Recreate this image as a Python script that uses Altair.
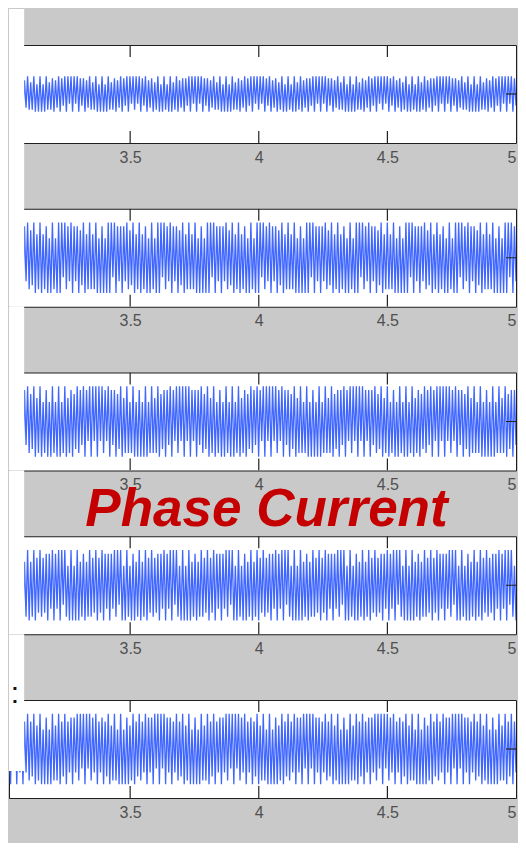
import altair as alt
import pandas as pd
import numpy as np

# ---------------- data ----------------
x_start, x_end = 3.029, 5.0          # visible time window
tick_values = [3.5, 4.0, 4.5, 5.0]   # x tick labels
inner_ticks = [3.5, 4.0, 4.5]        # tick marks drawn inside the box
strip_edge = 3.088                   # edge of the window strip covering the left of each plot
title_text = ["Phase Current"]
title_x = [4.03]
colon_text = [":"]
colon_x = [3.068]

# y half-range of each panel, in the same units as the sample levels below
panel_range = [25.0, 12.5, 12.5, 12.5, 12.5]

# sampled current (levels), one list per panel
phase_1 = [
    9,-9,9,-5, 9,-9,8,-6, 8,-9,7,-7, 9,-8,6,-8, 9,-9,5,-9, 9,-9,5,-9, 9,-8,6,-8, 8,-9,7,-7, 9,-9,8,-6, 9,-9,9,-5,
    9,-9,9,-5, 9,-9,8,-6, 8,-9,7,-7, 9,-8,6,-8, 9,-9,5,-9, 9,-9,5,-9, 9,-8,6,-8, 8,-9,7,-7, 9,-9,8,-6, 9,-9,9,-5,
    9,-8,9,-5, 9,-9,8,-6, 9,-9,7,-7, 8,-9,6,-8, 9,-9,5,-9, 9,-8,5,-9, 9,-9,6,-8, 9,-9,7,-7, 8,-9,8,-6, 9,-9,9,-5,
    9,-9,9,-5, 9,-9,8,-6, 8,-9,7,-7, 9,-8,6,-8, 9,-9,5,-9, 9,-9,5,-9, 9,-8,6,-8, 8,-9,7,-7, 9,-9,8,-6, 9,-9,9,-5,
    9,-8,9,-5, 9,-9,8,-6, 9,-9,7,-7, 8,-9,6,-8, 9,-9,5,-9, 9,-8,5,-9, 9,-9,6,-8, 9,-9,7,-7, 8,-9,8,-6, 9,-9,9,-5,
    9,-9,9,-5, 9,-9,8,-6, 8,-9,7,-7, 9,-8,6,-8, 9,-9,5,-9, 9,-9,5,-9, 9,-8,6,-8, 8,-9,7,-7, 9,-9,8,-6, 9,-9,9,-5,
    9,-8,9,-5, 9,-9,8,-6, 9,-9,7,-7, 8,-9,6,-8, 9,-9,5,-9, 9,-8,5,-9, 9,-9,6,-8, 9,-9,7,-7, 8,-9,8,-6, 9,-9,9,-5,
    9,-9,9,-5, 9,-9,8,-6, 8,-9,7,-7, 9,-8,6,-8, 9,-9,5,-9, 9,-9,5,-9, 9,-8,6,-8, 8,-9,7,-7, 9,-9,8,-6, 9,-9,9,-5,
    9,-9,9,-5, 9,-9,8,-6,
]

phase_2 = [
    9,-9,9,-5, 9,-9,8,-6, 8,-9,8,-6, 9,-8,7,-7, 9,-9,6,-8, 9,-9,6,-8, 8,-9,5,-9, 9,-8,5,-9,
    9,-9,9,-5, 9,-8,8,-6, 9,-9,8,-6, 8,-9,7,-7, 9,-9,6,-8, 9,-8,6,-8, 9,-9,5,-9, 8,-9,5,-9,
    9,-9,9,-5, 9,-9,8,-6, 8,-9,8,-6, 9,-8,7,-7, 9,-9,6,-8, 9,-9,6,-8, 8,-9,5,-9, 9,-8,5,-9,
    9,-9,9,-5, 9,-8,8,-6, 9,-9,8,-6, 8,-9,7,-7, 9,-9,6,-8, 9,-8,6,-8, 9,-9,5,-9, 8,-9,5,-9,
    9,-9,9,-5, 9,-9,8,-6, 8,-9,8,-6, 9,-8,7,-7, 9,-9,6,-8, 9,-9,6,-8, 8,-9,5,-9, 9,-8,5,-9,
    9,-9,9,-5, 9,-8,8,-6, 9,-9,8,-6, 8,-9,7,-7, 9,-9,6,-8, 9,-8,6,-8, 9,-9,5,-9, 8,-9,5,-9,
    9,-9,9,-5, 9,-9,8,-6, 8,-9,8,-6, 9,-8,7,-7, 9,-9,6,-8, 9,-9,6,-8, 8,-9,5,-9, 9,-8,5,-9,
    9,-9,9,-5, 9,-8,8,-6, 9,-9,8,-6, 8,-9,7,-7, 9,-9,6,-8, 9,-8,6,-8, 9,-9,5,-9, 8,-9,5,-9,
    9,-9,9,-5, 9,-9,8,-6, 8,-9,8,-6, 9,-8,7,-7, 9,-9,6,-8, 9,-9,6,-8, 8,-9,5,-9, 9,-8,5,-9,
    9,-9,9,-5, 9,-8,8,-6, 9,-9,8,-6, 8,-9,7,-7, 9,-9,6,-8, 9,-8,6,-8, 9,-9,5,-9, 8,-9,5,-9,
    9,-9,9,-5, 9,-9,8,-6,
]

phase_3 = [
    9,-9,9,-5, 9,-9,8,-5, 8,-9,8,-6, 9,-8,7,-7, 9,-9,6,-8, 9,-9,5,-8, 8,-9,5,-9,
    9,-8,5,-9, 9,-9,5,-8, 9,-9,6,-8, 8,-9,7,-7, 9,-8,8,-6, 9,-9,8,-5, 9,-9,9,-5,
    9,-9,9,-5, 9,-8,8,-5, 9,-9,8,-6, 8,-9,7,-7, 9,-9,6,-8, 9,-8,5,-8, 9,-9,5,-9,
    8,-9,5,-9, 9,-9,5,-8, 9,-8,6,-8, 9,-9,7,-7, 8,-9,8,-6, 9,-9,8,-5, 9,-8,9,-5,
    9,-9,9,-5, 9,-9,8,-5, 8,-9,8,-6, 9,-8,7,-7, 9,-9,6,-8, 9,-9,5,-8, 8,-9,5,-9,
    9,-8,5,-9, 9,-9,5,-8, 9,-9,6,-8, 8,-9,7,-7, 9,-8,8,-6, 9,-9,8,-5, 9,-9,9,-5,
    9,-9,9,-5, 9,-8,8,-5, 9,-9,8,-6, 8,-9,7,-7, 9,-9,6,-8, 9,-8,5,-8, 9,-9,5,-9,
    8,-9,5,-9, 9,-9,5,-8, 9,-8,6,-8, 9,-9,7,-7, 8,-9,8,-6, 9,-9,8,-5, 9,-8,9,-5,
    9,-9,9,-5, 9,-9,8,-5, 8,-9,8,-6, 9,-8,7,-7, 9,-9,6,-8, 9,-9,5,-8, 8,-9,5,-9,
    9,-8,5,-9, 9,-9,5,-8, 9,-9,6,-8, 8,-9,7,-7, 9,-8,8,-6, 9,-9,8,-5, 9,-9,9,-5,
    9,-9,9,-5, 9,-8,8,-5, 9,-9,8,-6, 8,-9,7,-7, 9,-9,6,-8, 9,-8,5,-8, 9,-9,5,-9,
    8,-9,5,-9, 9,-9,5,-8, 9,-8,6,-8, 9,-9,7,-7, 8,-9,8,-6,
]

phase_4 = [
    9,-9,5,-9, 9,-8,5,-9, 8,-9,6,-8, 9,-9,6,-8, 9,-9,7,-7, 9,-8,7,-7, 8,-9,8,-6, 9,-9,8,-6, 9,-9,9,-5,
    9,-8,5,-9, 9,-9,5,-9, 9,-9,6,-8, 8,-9,6,-8, 9,-8,7,-7, 9,-9,7,-7, 9,-9,8,-6, 8,-9,8,-6, 9,-8,9,-5,
    9,-9,5,-9, 9,-8,5,-9, 8,-9,6,-8, 9,-9,6,-8, 9,-9,7,-7, 9,-8,7,-7, 8,-9,8,-6, 9,-9,8,-6, 9,-9,9,-5,
    9,-8,5,-9, 9,-9,5,-9, 9,-9,6,-8, 8,-9,6,-8, 9,-8,7,-7, 9,-9,7,-7, 9,-9,8,-6, 8,-9,8,-6, 9,-8,9,-5,
    9,-9,5,-9, 9,-8,5,-9, 8,-9,6,-8, 9,-9,6,-8, 9,-9,7,-7, 9,-8,7,-7, 8,-9,8,-6, 9,-9,8,-6, 9,-9,9,-5,
    9,-8,5,-9, 9,-9,5,-9, 9,-9,6,-8, 8,-9,6,-8, 9,-8,7,-7, 9,-9,7,-7, 9,-9,8,-6, 8,-9,8,-6, 9,-8,9,-5,
    9,-9,5,-9, 9,-8,5,-9, 8,-9,6,-8, 9,-9,6,-8, 9,-9,7,-7, 9,-8,7,-7, 8,-9,8,-6, 9,-9,8,-6, 9,-9,9,-5,
    9,-8,5,-9, 9,-9,5,-9, 9,-9,6,-8, 8,-9,6,-8, 9,-8,7,-7, 9,-9,7,-7, 9,-9,8,-6, 8,-9,8,-6, 9,-8,9,-5,
    9,-9,5,-9, 9,-8,5,-9, 8,-9,6,-8, 9,-9,6,-8, 9,-9,7,-7, 9,-8,7,-7, 8,-9,8,-6, 9,-9,8,-6, 9,-9,9,-5,
    9,-8,5,-9,
]

phase_5 = [
    9,-9,9,-5, 9,-9,8,-6, 8,-9,7,-6, 9,-8,7,-7, 9,-9,6,-8, 9,-9,5,-9,
    8,-9,5,-9, 9,-8,6,-8, 9,-9,7,-7, 9,-9,7,-6, 8,-9,8,-6, 9,-8,9,-5,
    9,-9,9,-5, 9,-8,8,-6, 9,-9,7,-6, 8,-9,7,-7, 9,-9,6,-8, 9,-8,5,-9,
    9,-9,5,-9, 8,-9,6,-8, 9,-9,7,-7, 9,-8,7,-6, 9,-9,8,-6, 8,-9,9,-5,
    9,-9,9,-5, 9,-9,8,-6, 8,-9,7,-6, 9,-8,7,-7, 9,-9,6,-8, 9,-9,5,-9,
    8,-9,5,-9, 9,-8,6,-8, 9,-9,7,-7, 9,-9,7,-6, 8,-9,8,-6, 9,-8,9,-5,
    9,-9,9,-5, 9,-8,8,-6, 9,-9,7,-6, 8,-9,7,-7, 9,-9,6,-8, 9,-8,5,-9,
    9,-9,5,-9, 8,-9,6,-8, 9,-9,7,-7, 9,-8,7,-6, 9,-9,8,-6, 8,-9,9,-5,
    9,-9,9,-5, 9,-9,8,-6, 8,-9,7,-6, 9,-8,7,-7, 9,-9,6,-8, 9,-9,5,-9,
    8,-9,5,-9, 9,-8,6,-8, 9,-9,7,-7, 9,-9,7,-6, 8,-9,8,-6, 9,-8,9,-5,
    9,-9,9,-5, 9,-8,8,-6, 9,-9,7,-6, 8,-9,7,-7, 9,-9,6,-8, 9,-8,5,-9,
    9,-9,5,-9, 8,-9,6,-8, 9,-9,7,-7, 9,-8,7,-6, 9,-9,8,-6, 8,-9,9,-5,
    9,-9,9,-5, 9,-9,8,-6, 8,-9,7,-6, 9,-8,7,-7, 9,-9,6,-8, 9,-9,5,-9,
    8,-9,5,-9, 9,-8,6,-8, 9,-9,7,-7, 9,-9,7,-6,
]

panels = [phase_1, phase_2, phase_3, phase_4, phase_5]

# ---------------- layout / style ----------------
W, H, GAP = 507, 98, 65.75
BG = "#c9c9c9"
LINE = "#3f66ff"
LABEL_FONT = "Liberation Sans"

xs = alt.Scale(domain=[x_start, x_end], nice=False, zero=False)
x_axis = alt.Axis(values=tick_values, format="~g", title=None, grid=False,
                  domain=False, ticks=False, labelPadding=6, labelFontSize=16,
                  labelColor="#505050", labelFont=LABEL_FONT,
                  labelFlush=True, labelOverlap=False)


def make_panel(i, levels):
    r = panel_range[i]
    ys = alt.Scale(domain=[-r, r], nice=False, zero=False)
    t = np.linspace(x_start, x_end, len(levels))
    df = pd.DataFrame({"t": t, "v": levels})

    line = alt.Chart(df).mark_line(color=LINE, strokeWidth=1.3, clip=True).encode(
        x=alt.X("t:Q", scale=xs, axis=x_axis),
        y=alt.Y("v:Q", scale=ys, axis=None),
    )

    strip_top = -36 if i == 0 else -GAP
    strip_bottom = 71 if i == 4 else H
    strip = alt.Chart(pd.DataFrame({"x0": [x_start], "x1": [strip_edge]})).mark_rect(
        color="white").encode(
        x=alt.X("x0:Q", scale=xs, axis=x_axis), x2="x1:Q",
        y=alt.value(strip_top), y2=alt.value(strip_bottom))

    tdf = pd.DataFrame({"t": inner_ticks})
    ticks_top = alt.Chart(tdf).mark_rule(color="#222222", strokeWidth=1.2, clip=True).encode(
        x=alt.X("t:Q", scale=xs, axis=x_axis), y=alt.value(0), y2=alt.value(12))
    ticks_bot = alt.Chart(tdf).mark_rule(color="#222222", strokeWidth=1.2, clip=True).encode(
        x=alt.X("t:Q", scale=xs, axis=x_axis), y=alt.value(H - 12), y2=alt.value(H))
    zero_tick = alt.Chart(pd.DataFrame({"z": [0]})).mark_rule(
        color="#222222", strokeWidth=1.2, clip=True).encode(
        y=alt.Y("z:Q", scale=ys, axis=None), x=alt.value(W - 10), x2=alt.value(W))

    layers = [line, strip, ticks_top, ticks_bot, zero_tick]

    if i == 3:
        title = alt.Chart(pd.DataFrame({"tx": title_x, "label": title_text})).mark_text(
            font=LABEL_FONT, fontSize=53, fontWeight="bold", fontStyle="italic",
            color="#c40000", align="center", baseline="alphabetic").encode(
            x=alt.X("tx:Q", scale=xs, axis=x_axis), y=alt.value(-10), text="label:N")
        layers.append(title)
    if i == 4:
        colon = alt.Chart(pd.DataFrame({"tx": colon_x, "label": colon_text})).mark_text(
            font=LABEL_FONT, fontSize=30, color="#111111", align="right",
            baseline="alphabetic").encode(
            x=alt.X("tx:Q", scale=xs, axis=x_axis), y=alt.value(3), text="label:N")
        layers.append(colon)

    return alt.layer(*layers).properties(width=W, height=H)


charts = [make_panel(i, lv) for i, lv in enumerate(panels)]

chart = alt.vconcat(*charts, spacing=GAP, bounds="flush").properties(
    background=BG,
    padding={"left": 0, "top": 0, "right": 1, "bottom": 22},
).configure_view(fill="white", stroke="#1e1e1e", strokeWidth=1)

chart.save("out.html", embed_options={"renderer": "svg", "actions": False})
